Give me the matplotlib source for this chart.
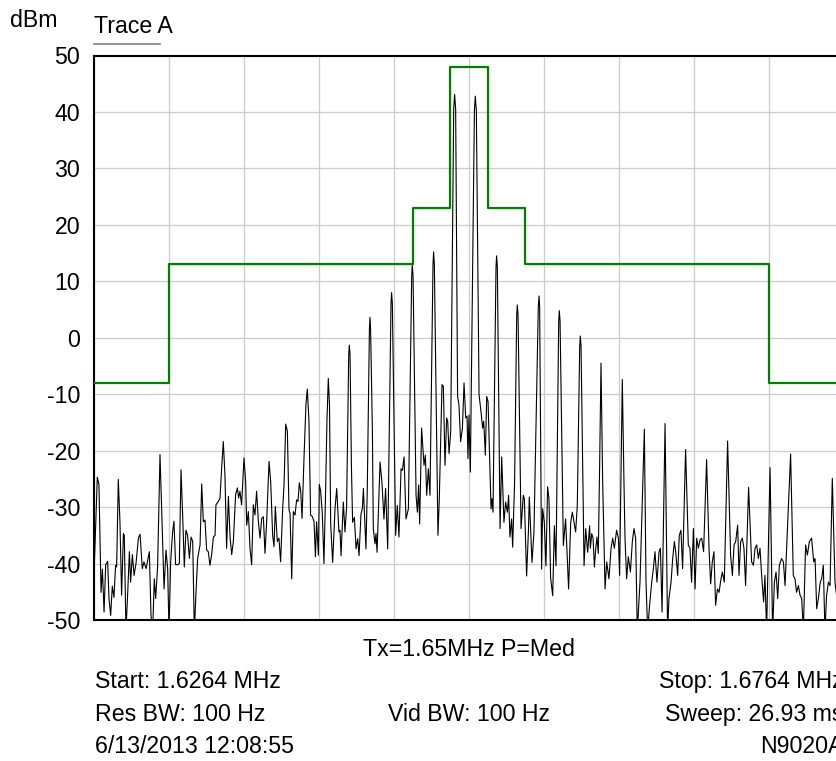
import matplotlib
matplotlib.use("Agg")
import matplotlib.pyplot as plt
from matplotlib.lines import Line2D
import numpy as np

plt.rcParams['font.family'] = ['Liberation Sans', 'DejaVu Sans']

START_MHZ = 1.6264
SPAN_KHZ = 50.0

# measured trace: offset from start (kHz) and level (dBm)
trace_khz = [
    0.00, 0.22, 0.33, 0.47, 0.56, 0.67, 0.78, 0.91, 1.00, 1.11,
    1.22, 1.33, 1.44, 1.51, 1.62, 1.73, 1.84, 1.96, 2.02, 2.13,
    2.24, 2.36, 2.44, 2.56, 2.67, 2.80, 2.96, 3.07, 3.22, 3.33,
    3.47, 3.56, 3.69, 3.80, 3.91, 4.02, 4.11, 4.24, 4.40, 4.51,
    4.67, 4.80, 4.91, 5.00, 5.11, 5.24, 5.33, 5.44, 5.58, 5.69,
    5.80, 5.91, 6.02, 6.13, 6.24, 6.36, 6.47, 6.58, 6.69, 6.80,
    6.91, 7.07, 7.18, 7.29, 7.40, 7.51, 7.62, 7.73, 7.84, 7.96,
    8.07, 8.13, 8.29, 8.40, 8.51, 8.62, 8.73, 8.84, 8.96, 9.07,
    9.18, 9.29, 9.44, 9.56, 9.64, 9.73, 9.84, 10.00, 10.11, 10.18,
    10.29, 10.40, 10.51, 10.62, 10.73, 10.84, 10.96, 11.07, 11.18, 11.29,
    11.40, 11.51, 11.67, 11.78, 11.91, 12.00, 12.09, 12.22, 12.33, 12.44,
    12.58, 12.67, 12.78, 12.89, 13.00, 13.07, 13.18, 13.29, 13.40, 13.51,
    13.60, 13.69, 13.78, 13.87, 14.00, 14.13, 14.22, 14.33, 14.44, 14.56,
    14.67, 14.76, 14.84, 14.96, 15.02, 15.11, 15.22, 15.33, 15.44, 15.53,
    15.62, 15.70, 15.78, 15.91, 16.07, 16.18, 16.33, 16.40, 16.47, 16.62,
    16.73, 16.84, 16.98, 17.02, 17.07, 17.16, 17.24, 17.36, 17.47, 17.58,
    17.67, 17.80, 17.89, 17.96, 18.13, 18.22, 18.36, 18.40, 18.44, 18.56,
    18.62, 18.73, 18.80, 18.87, 19.07, 19.20, 19.33, 19.44, 19.58, 19.80,
    19.84, 19.89, 20.11, 20.22, 20.33, 20.47, 20.56, 20.67, 20.80, 20.96,
    21.18, 21.22, 21.27, 21.47, 21.56, 21.64, 21.71, 21.84, 22.00, 22.09,
    22.18, 22.29, 22.40, 22.60, 22.64, 22.69, 22.89, 22.93, 23.02, 23.20,
    23.29, 23.40, 23.51, 23.58, 23.67, 23.78, 23.98, 24.04, 24.11, 24.24,
    24.33, 24.44, 24.56, 24.67, 24.78, 24.87, 24.93, 25.00, 25.09, 25.36,
    25.42, 25.49, 25.67, 25.80, 25.91, 25.98, 26.09, 26.18, 26.27, 26.47,
    26.53, 26.60, 26.80, 26.84, 26.89, 27.07, 27.18, 27.33, 27.44, 27.56,
    27.64, 27.73, 27.84, 27.91, 28.04, 28.18, 28.22, 28.27, 28.47, 28.62,
    28.69, 28.84, 28.96, 29.02, 29.20, 29.33, 29.62, 29.67, 29.71, 29.84,
    29.91, 30.02, 30.13, 30.24, 30.33, 30.44, 30.58, 30.69, 30.80, 30.98,
    31.02, 31.07, 31.29, 31.44, 31.64, 31.78, 31.89, 32.02, 32.11, 32.22,
    32.38, 32.42, 32.47, 32.67, 32.78, 32.91, 33.04, 33.09, 33.18, 33.27,
    33.36, 33.44, 33.53, 33.62, 33.71, 33.80, 33.91, 34.07, 34.18, 34.33,
    34.47, 34.58, 34.69, 34.84, 34.96, 35.04, 35.22, 35.33, 35.40, 35.51,
    35.62, 35.76, 35.89, 36.00, 36.11, 36.22, 36.40, 36.69, 36.80, 36.91,
    37.02, 37.18, 37.29, 37.40, 37.53, 37.67, 37.76, 37.87, 38.07, 38.24,
    38.33, 38.47, 38.58, 38.69, 38.78, 38.91, 39.02, 39.13, 39.24, 39.44,
    39.62, 39.73, 39.84, 39.96, 40.07, 40.18, 40.29, 40.40, 40.51, 40.64,
    40.84, 41.00, 41.11, 41.22, 41.33, 41.44, 41.56, 41.67, 41.80, 41.89,
    42.02, 42.24, 42.44, 42.56, 42.67, 42.78, 42.91, 43.00, 43.11, 43.22,
    43.33, 43.44, 43.64, 43.84, 43.96, 44.07, 44.18, 44.29, 44.40, 44.51,
    44.64, 44.73, 44.84, 45.07, 45.24, 45.36, 45.47, 45.58, 45.69, 45.84,
    45.96, 46.07, 46.44, 46.62, 46.73, 46.84, 46.96, 47.07, 47.18, 47.29,
    47.44, 47.56, 47.69, 47.84, 47.98, 48.07, 48.18, 48.29, 48.42, 48.51,
    48.62, 48.73, 48.84, 48.96, 49.07, 49.22, 49.40, 49.53, 49.70, 49.85,
    50.00,
]
trace_dbm = [
    -42.1, -24.7, -26.0, -45.1, -41.0, -48.6, -40.2, -39.6, -46.2, -49.2,
    -44.0, -46.0, -40.3, -40.6, -25.1, -32.6, -45.6, -34.7, -35.0, -52.0,
    -45.6, -37.9, -43.3, -38.4, -42.1, -40.0, -35.5, -34.8, -40.9, -39.7,
    -40.9, -39.7, -37.9, -49.2, -52.0, -42.7, -46.2, -40.6, -20.7, -30.2,
    -44.5, -37.6, -40.9, -52.0, -39.7, -34.4, -32.5, -40.2, -40.2, -40.0,
    -23.4, -31.4, -40.6, -34.1, -35.0, -39.1, -35.3, -36.1, -52.0, -45.1,
    -39.1, -36.7, -25.9, -32.6, -32.3, -37.6, -37.9, -40.3, -38.5, -35.3,
    -35.0, -29.6, -29.0, -28.4, -23.1, -18.4, -24.3, -37.3, -28.1, -35.3,
    -38.4, -36.1, -27.8, -26.6, -28.4, -27.2, -29.6, -21.3, -25.5, -33.2,
    -30.8, -37.3, -40.2, -29.6, -31.4, -27.2, -32.6, -35.5, -32.0, -31.7,
    -38.2, -32.6, -21.9, -25.5, -35.0, -37.0, -29.9, -36.1, -35.5, -39.7,
    -30.2, -26.0, -15.3, -16.5, -30.5, -31.1, -42.7, -30.8, -31.4, -28.7,
    -29.0, -25.7, -27.2, -32.0, -21.3, -11.8, -9.1, -14.7, -31.4, -31.7,
    -32.6, -38.8, -32.6, -38.5, -26.0, -27.2, -31.1, -40.0, -27.2, -14.7,
    -7.2, -12.0, -33.0, -39.8, -30.2, -26.7, -34.4, -34.1, -38.6, -29.1,
    -34.4, -30.0, -3.0, -1.3, -3.0, -22.6, -32.7, -31.8, -37.4, -35.6,
    -38.6, -31.2, -30.3, -26.7, -37.4, -26.7, 1.5, 3.6, 1.5, -16.6,
    -33.8, -36.5, -34.7, -38.0, -22.0, -25.8, -32.1, -26.7, -37.4, 6.0,
    8.0, 6.0, -35.0, -29.7, -35.3, -23.2, -23.5, -21.1, -32.1, -30.3,
    11.0, 12.9, 11.0, -27.9, -30.9, -26.1, -33.0, -16.0, -22.6, -20.8,
    -27.9, -23.2, -27.9, 13.0, 15.2, 13.0, -27.9, -35.0, -28.5, -8.3,
    -8.6, -22.6, -14.2, -14.8, -20.5, -16.6, 40.5, 43.1, 40.5, -10.4,
    -11.9, -18.4, -16.0, -8.0, -14.2, -13.9, -21.4, -13.7, -23.8, 40.2,
    42.8, 40.2, -10.1, -13.1, -16.0, -14.8, -20.8, -10.4, -11.3, -30.3,
    -28.5, -30.9, 12.5, 14.5, 12.5, -33.8, -21.1, -32.7, -29.1, -30.9,
    -27.9, -35.3, -32.1, -37.1, -25.5, 4.0, 5.8, 4.0, -33.8, -27.9,
    -28.5, -42.2, -34.4, -28.2, -39.8, -34.4, 5.5, 7.4, 5.5, -41.0,
    -30.3, -32.7, -40.4, -26.4, -28.5, -42.5, -45.7, -33.3, -40.4, 3.0,
    4.8, 3.0, -36.8, -32.1, -44.5, -32.7, -30.9, -33.0, -34.4, -29.7,
    -1.5, 0.3, -1.5, -40.4, -33.8, -38.0, -33.3, -37.3, -34.7, -35.5,
    -40.6, -37.6, -35.3, -38.2, -22.5, -4.5, -25.4, -44.5, -39.7, -42.7,
    -37.3, -35.5, -37.3, -34.1, -35.5, -42.1, -7.4, -25.4, -35.5, -42.7,
    -38.8, -41.5, -36.1, -33.8, -35.5, -52.0, -43.3, -16.2, -43.3, -52.0,
    -48.0, -43.3, -40.9, -37.9, -43.3, -37.9, -37.3, -48.6, -15.2, -52.0,
    -46.2, -43.3, -39.1, -36.1, -37.9, -42.1, -35.0, -34.1, -40.9, -19.8,
    -36.7, -37.3, -43.3, -33.8, -44.5, -35.5, -37.3, -35.8, -35.5, -37.9,
    -21.6, -37.3, -43.6, -39.7, -37.9, -47.4, -44.5, -45.1, -42.7, -41.5,
    -43.3, -18.3, -38.5, -42.1, -36.7, -36.1, -33.2, -42.1, -36.1, -35.5,
    -37.3, -43.9, -26.5, -39.7, -40.3, -37.3, -36.7, -39.1, -37.3, -42.1,
    -46.8, -42.1, -52.0, -23.0, -52.0, -43.3, -41.5, -46.2, -40.3, -39.1,
    -39.7, -43.9, -20.6, -42.1, -42.7, -45.1, -43.9, -45.6, -46.2, -52.0,
    -36.7, -38.5, -36.1, -35.5, -39.7, -39.1, -48.0, -46.2, -43.3, -42.7,
    -40.3, -52.0, -45.6, -43.3, -43.9, -24.9, -43.3, -46.2, -40.0, -44.0,
    -41.0,
]

# limit mask: segment edges (kHz offset) and level (dBm) of each segment
mask_edges_khz = [0.0, 5.0, 21.25, 23.75, 26.25, 28.75, 45.0, 50.0]
mask_levels_dbm = [-8, 13, 23, 48, 23, 13, -8]

y_ticks = [50, 40, 30, 20, 10, 0, -10, -20, -30, -40, -50]

W, H = 837, 761


def fx(x):
    return x / W


def fy(y):
    return 1 - y / H


fig = plt.figure(figsize=(W / 100, H / 100), dpi=100)
ax = fig.add_axes([fx(94), fy(620), (844 - 94) / W, (620 - 55.5) / H])

freq = START_MHZ + np.array(trace_khz) / 1000.0
ax.plot(freq, trace_dbm, color='black', linewidth=0.8, zorder=3)

# mask as a stepped line
mx = START_MHZ + np.array(mask_edges_khz) / 1000.0
my = list(mask_levels_dbm) + [mask_levels_dbm[-1]]
ax.step(mx, my, where='post', color='#008000', linewidth=1.6, zorder=4)

ax.set_xlim(START_MHZ, START_MHZ + SPAN_KHZ / 1000.0)
ax.set_ylim(-50, 50)
ax.set_xticks(START_MHZ + np.arange(0, 51, 5) / 1000.0)
ax.set_xticklabels([])
ax.set_yticks(y_ticks)
ax.set_yticklabels([str(v) for v in y_ticks], fontsize=16.7)
ax.tick_params(length=0, pad=10)
ax.grid(True, color='#cccccc', linewidth=0.9, zorder=0)
ax.set_axisbelow(True)
for side in ['top', 'left', 'bottom']:
    ax.spines[side].set_linewidth(1.5)
    ax.spines[side].set_color('black')
ax.spines['right'].set_visible(False)

fs = 16.7
fig.text(fx(10), fy(27), 'dBm', fontsize=fs, ha='left', va='baseline')
fig.text(fx(94), fy(33), 'Trace A', fontsize=fs, ha='left', va='baseline')
fig.add_artist(Line2D([fx(94), fx(160)], [fy(43.5), fy(43.5)],
                      color='#808080', linewidth=1.2))

fig.text(fx(469), fy(656), 'Tx=1.65MHz P=Med', fontsize=fs, ha='center', va='baseline')
fig.text(fx(95), fy(688), 'Start: 1.6264 MHz', fontsize=fs, ha='left', va='baseline')
fig.text(fx(844), fy(688), 'Stop: 1.6764 MHz', fontsize=fs, ha='right', va='baseline')
fig.text(fx(95), fy(721), 'Res BW: 100 Hz', fontsize=fs, ha='left', va='baseline')
fig.text(fx(469), fy(721), 'Vid BW: 100 Hz', fontsize=fs, ha='center', va='baseline')
fig.text(fx(844), fy(721), 'Sweep: 26.93 ms', fontsize=fs, ha='right', va='baseline')
fig.text(fx(95), fy(753), '6/13/2013 12:08:55', fontsize=fs, ha='left', va='baseline')
fig.text(fx(844), fy(753), 'N9020A', fontsize=fs, ha='right', va='baseline')

fig.savefig('out.png', dpi=100)
